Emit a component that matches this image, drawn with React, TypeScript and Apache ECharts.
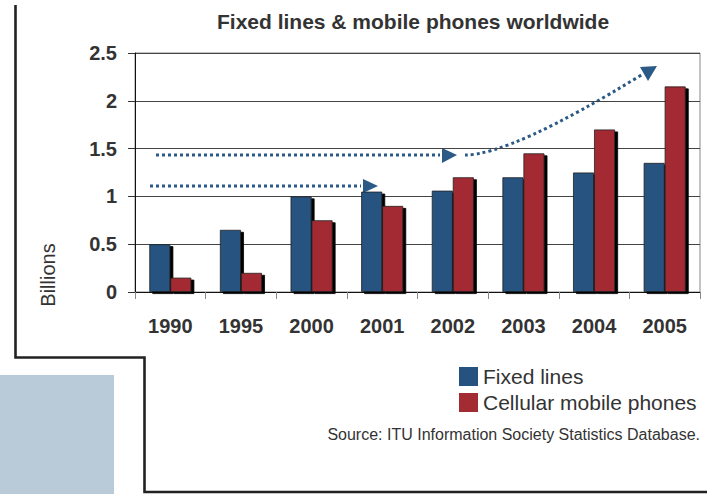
import React, { useEffect, useRef } from "react";
import * as echarts from "echarts";

const years = ["1990", "1995", "2000", "2001", "2002", "2003", "2004", "2005"];
const fixedLines = [0.5, 0.65, 1.0, 1.05, 1.06, 1.2, 1.25, 1.35];
const cellular = [0.15, 0.2, 0.75, 0.9, 1.2, 1.45, 1.7, 2.15];
const seriesNames = ["Fixed lines", "Cellular mobile phones"];
const titleText = "Fixed lines & mobile phones worldwide";
const sourceText = "Source: ITU Information Society Statistics Database.";
const yAxisName = "Billions";

const BLUE = "#25527f";
const RED = "#a32b32";
const ARROW = "#2b5a87";
const FONT = "'Liberation Sans', Arial, sans-serif";

export default function App() {
  const ref = useRef<HTMLDivElement>(null);
  useEffect(() => {
    if (!ref.current) return;
    const chart = echarts.init(ref.current, undefined, { renderer: "svg" });
    const barStyle = (color: string) => ({
      color,
      borderColor: "#222",
      borderWidth: 0.8,
      shadowColor: "#000",
      shadowBlur: 0,
      shadowOffsetX: 3,
      shadowOffsetY: 2,
    });
    chart.setOption({
      animation: false,
      backgroundColor: "#fff",
      textStyle: { fontFamily: FONT },
      title: {
        text: titleText,
        left: 212,
        top: 6,
        textStyle: { fontSize: 21, fontWeight: "bold", color: "#333", fontFamily: FONT },
      },
      legend: {
        orient: "vertical",
        left: 454,
        top: 361,
        itemWidth: 19,
        itemHeight: 19,
        itemGap: 5,
        icon: "rect",
        data: seriesNames,
        itemStyle: { borderWidth: 0, shadowBlur: 0, shadowOffsetX: 0, shadowOffsetY: 0, shadowColor: "transparent" },
        textStyle: { fontSize: 21, color: "#333", fontFamily: FONT },
      },
      grid: {
        left: 135,
        top: 53,
        width: 565,
        height: 239,
        show: true,
        borderColor: "#888",
        borderWidth: 1,
        containLabel: false,
      },
      xAxis: {
        type: "category",
        data: years,
        axisLine: { lineStyle: { color: "#111", width: 1 } },
        axisTick: { show: true, length: 7, interval: 0, lineStyle: { color: "#888" } },
        axisLabel: { fontSize: 20, fontWeight: "bold", color: "#333", margin: 24, fontFamily: FONT },
      },
      yAxis: {
        type: "value",
        min: 0,
        max: 2.5,
        interval: 0.5,
        axisLine: { show: true, lineStyle: { color: "#111", width: 1 } },
        axisTick: { show: true, length: 7, lineStyle: { color: "#333" } },
        axisLabel: { fontSize: 20, fontWeight: "bold", color: "#333", margin: 18, fontFamily: FONT },
        splitLine: { show: true, lineStyle: { color: "#444", width: 1 } },
      },
      series: [
        {
          name: seriesNames[0],
          type: "bar",
          data: fixedLines,
          barWidth: 21,
          barGap: "0%",
          itemStyle: barStyle(BLUE),
        },
        {
          name: seriesNames[1],
          type: "bar",
          data: cellular,
          barWidth: 21,
          barGap: "0%",
          itemStyle: barStyle(RED),
        },
      ],
      graphic: [
        {
          type: "rect",
          shape: { x: 0, y: 375, width: 114, height: 119 },
          style: { fill: "#b9cbd8" },
          z: -1,
        },
        {
          type: "polyline",
          shape: { points: [[15.5, 5], [15.5, 357.5], [144.5, 357.5], [144.5, 492], [707, 492]] },
          style: { stroke: "#222", lineWidth: 2.6, fill: "none" },
        },
        {
          type: "text",
          style: {
            text: yAxisName,
            x: 0,
            y: 0,
            fontSize: 20,
            fill: "#333",
            fontFamily: FONT,
            align: "center",
            verticalAlign: "middle",
          },
          x: 48,
          y: 275,
          rotation: Math.PI / 2,
        },
        {
          type: "text",
          style: {
            text: sourceText,
            x: 700,
            y: 434,
            fontSize: 16,
            fill: "#333",
            fontFamily: FONT,
            align: "right",
            verticalAlign: "middle",
          },
        },
        {
          type: "polyline",
          shape: { points: [[150, 186], [361, 186]] },
          style: { stroke: ARROW, lineWidth: 3, lineDash: [3, 3], fill: "none" },
        },
        {
          type: "polygon",
          shape: { points: [[363, 179], [363, 193], [378, 186]] },
          style: { fill: ARROW },
        },
        {
          type: "polyline",
          shape: { points: [[156, 155], [440, 155]] },
          style: { stroke: ARROW, lineWidth: 3, lineDash: [3, 3], fill: "none" },
        },
        {
          type: "polygon",
          shape: { points: [[442, 148], [442, 163], [457, 155]] },
          style: { fill: ARROW },
        },
        {
          type: "bezierCurve",
          shape: { x1: 465, y1: 155, cpx1: 511, cpy1: 155, x2: 643, y2: 74 },
          style: { stroke: ARROW, lineWidth: 3, lineDash: [3, 3], fill: "none" },
        },
        {
          type: "polygon",
          shape: { points: [[640, 67], [648, 81], [657, 66]] },
          style: { fill: ARROW },
        },
      ],
    });
    return () => chart.dispose();
  }, []);
  return (
    <div
      ref={ref}
      style={{ position: "fixed", left: 0, top: 0, width: 715, height: 494 }}
    />
  );
}
